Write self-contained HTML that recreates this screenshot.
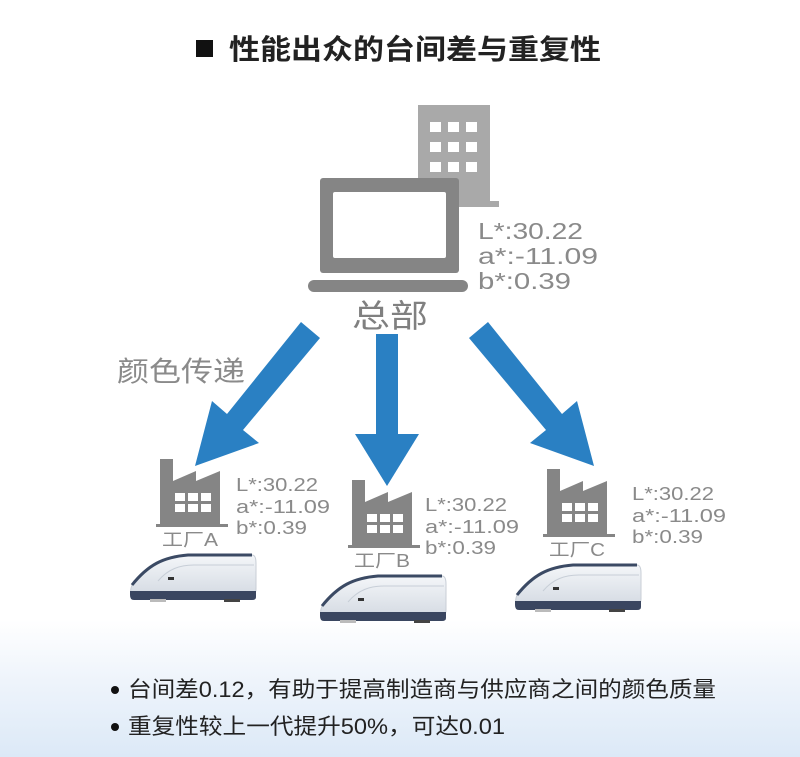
<!DOCTYPE html>
<html><head><meta charset="utf-8"><style>
html,body{margin:0;padding:0;width:800px;height:757px;overflow:hidden;background:#fff}
svg{display:block}
text{font-family:"Liberation Sans","Noto Sans CJK SC",sans-serif}
</style></head><body>
<svg width="800" height="757" viewBox="0 0 800 757" xmlns="http://www.w3.org/2000/svg">
<defs>
<linearGradient id="bg" x1="0" y1="0" x2="0" y2="1">
<stop offset="0" stop-color="#ffffff"/><stop offset="0.45" stop-color="#eef4fb"/><stop offset="1" stop-color="#dce9f7"/>
</linearGradient>
<linearGradient id="dev" x1="0" y1="0" x2="0" y2="1">
<stop offset="0" stop-color="#f4f6f9"/><stop offset="1" stop-color="#d5dbe3"/>
</linearGradient>
<g id="factory">
<path d="M0 0 H13 V22 L36 12 V22 L60 12 V65 H0 Z" fill="#858585"/>
<rect x="-4" y="65" width="72" height="3" fill="#858585"/>
<g fill="#fff"><rect x="15" y="34" width="10" height="8"/><rect x="28" y="34" width="10" height="8"/><rect x="41" y="34" width="10" height="8"/>
<rect x="15" y="45" width="10" height="8"/><rect x="28" y="45" width="10" height="8"/><rect x="41" y="45" width="10" height="8"/></g>
</g>
<g id="device">
<path d="M4 32 C20 12 35 4 60 2 H124 Q128 2 128 10 V36 Q128 42 122 42 H8 Q0 42 4 32 Z" fill="url(#dev)" stroke="#c8ced6" stroke-width="1"/>
<path d="M4 32 C20 12 35 4 60 2 H124" fill="none" stroke="#3b4a64" stroke-width="3"/>
<path d="M30 28 C40 16 52 12 66 12 H126" fill="none" stroke="#c7ced7" stroke-width="1"/>
<rect x="40" y="24" width="6" height="3" fill="#333"/>
<path d="M2 38 H128 V44 Q128 47 124 47 H6 Q2 47 2 42 Z" fill="#3a4660"/>
<rect x="22" y="46" width="16" height="3" fill="#bbb"/><rect x="96" y="46" width="16" height="3" fill="#444"/>
</g>
</defs>
<rect x="0" y="620" width="800" height="137" fill="url(#bg)"/>
<!-- title -->
<rect x="196" y="40" width="17" height="17" fill="#111"/>
<text x="229" y="59" font-size="28" font-weight="bold" fill="#222" textLength="372" lengthAdjust="spacingAndGlyphs">性能出众的台间差与重复性</text>
<!-- building -->
<rect x="418" y="105" width="72" height="102" fill="#a9a9a9"/>
<rect x="418" y="201" width="81" height="6" fill="#a9a9a9"/>
<g fill="#fff">
<rect x="430" y="122" width="11" height="10"/><rect x="448" y="122" width="11" height="10"/><rect x="466" y="122" width="11" height="10"/>
<rect x="430" y="142" width="11" height="10"/><rect x="448" y="142" width="11" height="10"/><rect x="466" y="142" width="11" height="10"/>
<rect x="430" y="162" width="11" height="10"/><rect x="448" y="162" width="11" height="10"/><rect x="466" y="162" width="11" height="10"/>
</g>
<!-- laptop -->
<rect x="320" y="178" width="139" height="95" rx="3" fill="#858585"/>
<rect x="333" y="192" width="113" height="66" rx="2" fill="#fff"/>
<rect x="308" y="280" width="160" height="12" rx="6" fill="#858585"/>
<g font-size="23" fill="#8a8a8a">
<text x="478" y="239" textLength="105" lengthAdjust="spacingAndGlyphs">L*:30.22</text>
<text x="478" y="264" textLength="120" lengthAdjust="spacingAndGlyphs">a*:-11.09</text>
<text x="478" y="289" textLength="93" lengthAdjust="spacingAndGlyphs">b*:0.39</text>
</g>
<text x="352" y="327" font-size="32" fill="#808080" textLength="76" lengthAdjust="spacingAndGlyphs">总部</text>
<text x="117" y="381" font-size="28" fill="#8a8a8a" textLength="128" lengthAdjust="spacingAndGlyphs">颜色传递</text>
<!-- arrows -->
<g fill="#2a80c3">
<polygon points="301,322 320,338 243,430 259,443 195,466 212,401 227,414"/>
<rect x="376" y="334" width="22" height="100"/>
<polygon points="355,434 419,434 387,486"/>
<polygon points="488,322 469,338 546,430 530,443 594,466 577,401 562,414"/>
</g>
<!-- factories -->
<use href="#factory" x="160" y="459"/>
<use href="#factory" x="352" y="480"/>
<use href="#factory" x="547" y="469"/>
<g font-size="18" fill="#8a8a8a">
<text x="236" y="491" textLength="82" lengthAdjust="spacingAndGlyphs">L*:30.22</text><text x="236" y="513" textLength="94" lengthAdjust="spacingAndGlyphs">a*:-11.09</text><text x="236" y="534" textLength="71" lengthAdjust="spacingAndGlyphs">b*:0.39</text>
<text x="425" y="511" textLength="82" lengthAdjust="spacingAndGlyphs">L*:30.22</text><text x="425" y="533" textLength="94" lengthAdjust="spacingAndGlyphs">a*:-11.09</text><text x="425" y="554" textLength="71" lengthAdjust="spacingAndGlyphs">b*:0.39</text>
<text x="632" y="500" textLength="82" lengthAdjust="spacingAndGlyphs">L*:30.22</text><text x="632" y="522" textLength="94" lengthAdjust="spacingAndGlyphs">a*:-11.09</text><text x="632" y="543" textLength="71" lengthAdjust="spacingAndGlyphs">b*:0.39</text>
</g>
<g font-size="18" fill="#8a8a8a">
<text x="162" y="546" textLength="56" lengthAdjust="spacingAndGlyphs">工厂A</text>
<text x="354" y="567" textLength="56" lengthAdjust="spacingAndGlyphs">工厂B</text>
<text x="549" y="556" textLength="56" lengthAdjust="spacingAndGlyphs">工厂C</text>
</g>
<!-- devices -->
<use href="#device" x="128" y="553"/>
<use href="#device" x="318" y="574"/>
<use href="#device" x="513" y="563"/>
<!-- bullets -->
<circle cx="115" cy="690" r="4" fill="#111"/>
<circle cx="115" cy="727" r="4" fill="#111"/>
<text x="128" y="697" font-size="22" fill="#222" textLength="588" lengthAdjust="spacingAndGlyphs">台间差0.12，有助于提高制造商与供应商之间的颜色质量</text>
<text x="128" y="734" font-size="22" fill="#222" textLength="377" lengthAdjust="spacingAndGlyphs">重复性较上一代提升50%，可达0.01</text>
</svg>
</body></html>
